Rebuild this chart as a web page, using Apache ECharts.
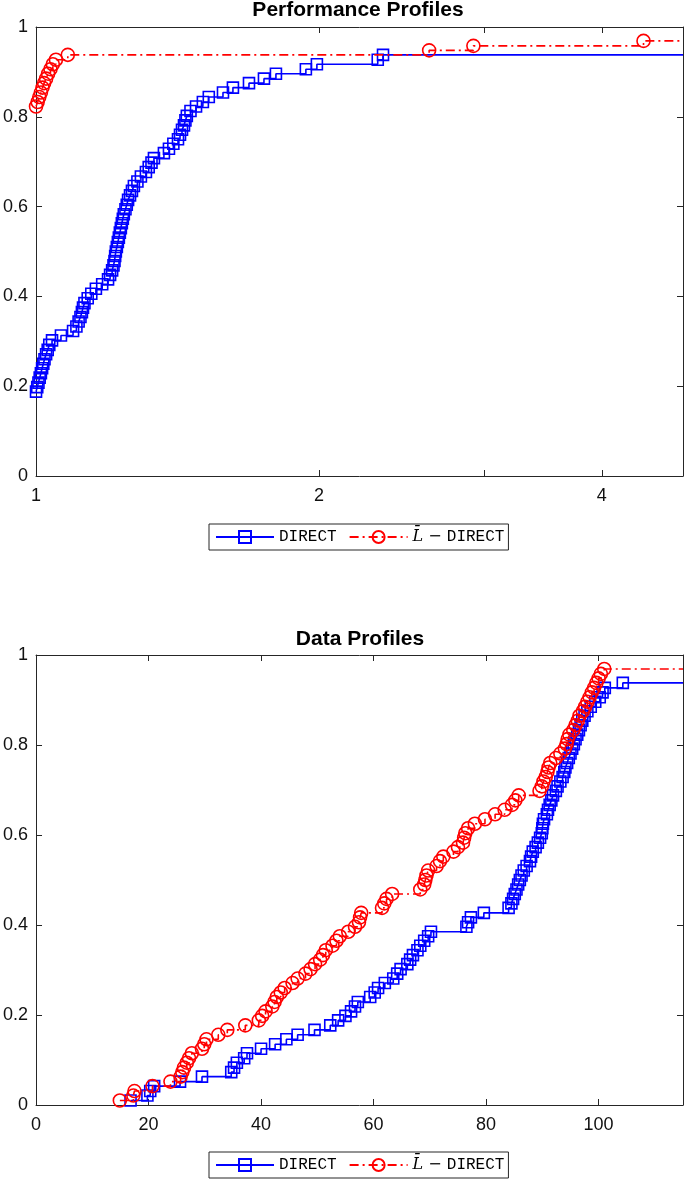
<!DOCTYPE html>
<html><head><meta charset="utf-8">
<script src="https://cdn.jsdelivr.net/npm/echarts@6/dist/echarts.min.js"></script>
<style>html,body{margin:0;padding:0;background:#fff}#c{width:685px;height:1182px}</style>
</head><body><div id="c"></div>
<script>
// ---------- data ----------
const seriesNames = ['DIRECT', 'L\u0304 \u2212 DIRECT'];
const titles = ['Performance Profiles', 'Data Profiles'];
const perfTickLabels = [1, 2, 4];
const perfTicks = [1, 2, 3, 4];
const perfXMin = 1, perfXMax = 4.88;
const dataXMin = 0, dataXMax = 115, dataXStep = 20;
const yTickStep = 0.2;

// Performance profile, DIRECT (tau, fraction)
const perfDirectX = [1.000,1.003,1.006,1.009,1.012,1.015,1.018,1.021,1.025,1.029,1.033,1.040,1.063,1.095,1.104,1.110,1.115,1.119,1.122,1.126,1.135,1.145,1.158,1.176,1.193,1.199,1.205,1.209,1.212,1.214,1.216,1.219,1.222,1.225,1.228,1.231,1.234,1.237,1.240,1.245,1.249,1.253,1.259,1.265,1.271,1.282,1.293,1.309,1.318,1.327,1.335,1.368,1.385,1.400,1.416,1.423,1.430,1.437,1.442,1.447,1.460,1.480,1.505,1.527,1.581,1.620,1.685,1.748,1.800,1.937,1.990,2.310,2.340];
const perfDirectY = [0.188,0.198,0.208,0.219,0.229,0.240,0.250,0.260,0.271,0.281,0.292,0.302,0.313,0.323,0.333,0.344,0.354,0.365,0.375,0.385,0.396,0.406,0.417,0.427,0.438,0.448,0.458,0.469,0.479,0.490,0.500,0.510,0.521,0.531,0.542,0.552,0.563,0.573,0.583,0.594,0.604,0.615,0.625,0.635,0.646,0.656,0.667,0.677,0.688,0.698,0.708,0.719,0.729,0.740,0.750,0.760,0.771,0.781,0.792,0.802,0.813,0.823,0.833,0.844,0.854,0.865,0.875,0.885,0.896,0.906,0.917,0.927,0.938];

// Performance profile, L-DIRECT
const perfLX = [1.000,1.004,1.008,1.012,1.016,1.020,1.025,1.030,1.036,1.042,1.050,1.081,2.62,2.92,4.43];
const perfLY = [0.823,0.833,0.844,0.854,0.865,0.875,0.885,0.896,0.906,0.917,0.927,0.938,0.948,0.958,0.969];

// Data profile, DIRECT (budget, fraction)
const dataDirectX = [16.8,19.8,20.3,21.0,25.6,29.5,34.7,35.2,35.7,37.0,37.5,40.0,42.5,44.5,46.5,49.5,52.3,53.7,55.0,56.0,56.7,57.2,59.4,60.2,60.8,62.0,63.5,64.2,64.8,66.0,66.5,67.0,67.8,68.3,69.0,69.7,70.2,76.5,76.8,77.3,79.6,84.0,84.5,84.8,85.1,85.4,85.7,86.0,86.3,86.7,87.2,87.8,88.0,88.3,88.8,89.2,89.6,89.9,90.0,90.1,90.3,90.8,91.0,91.3,91.6,91.9,92.4,92.7,93.2,93.6,93.9,94.1,94.4,94.7,95.0,95.3,95.6,95.9,96.2,96.5,96.8,97.1,97.5,98.0,98.6,99.4,100.2,100.7,101.1,104.3];
const dataDirectY = [0.010,0.021,0.031,0.042,0.052,0.063,0.073,0.083,0.094,0.104,0.115,0.125,0.135,0.146,0.156,0.167,0.177,0.188,0.198,0.208,0.219,0.229,0.240,0.250,0.260,0.271,0.281,0.292,0.302,0.313,0.323,0.333,0.344,0.354,0.365,0.375,0.385,0.396,0.406,0.417,0.427,0.438,0.448,0.458,0.469,0.479,0.490,0.500,0.510,0.521,0.531,0.542,0.552,0.563,0.573,0.583,0.594,0.604,0.615,0.625,0.635,0.646,0.656,0.667,0.677,0.688,0.698,0.708,0.719,0.729,0.740,0.750,0.760,0.771,0.781,0.792,0.802,0.813,0.823,0.833,0.844,0.854,0.865,0.875,0.885,0.896,0.906,0.917,0.927,0.938];

// Data profile, L-DIRECT
const dataLX = [14.9,17.3,17.5,20.7,23.9,25.7,26.0,26.3,26.8,27.2,27.7,29.5,29.9,30.3,32.4,34.0,37.2,39.6,40.2,40.8,42.0,42.4,42.8,43.5,44.2,45.6,46.5,47.9,48.8,49.6,50.5,51.0,51.5,52.7,53.4,54.0,55.5,56.7,57.4,57.6,57.8,61.5,61.9,62.3,63.3,68.3,69.0,69.2,69.4,69.7,71.2,71.8,72.4,74.2,75.0,75.9,76.1,76.3,76.8,78.0,79.8,81.6,83.3,84.6,85.2,85.8,89.5,89.9,90.2,90.6,90.9,91.1,91.4,92.4,93.2,94.0,94.3,94.5,94.8,95.5,95.9,96.3,96.6,97.2,97.6,98.0,98.4,98.8,99.2,99.6,100.0,100.4,101.0];
const dataLY = [0.010,0.021,0.031,0.042,0.052,0.063,0.073,0.083,0.094,0.104,0.115,0.125,0.135,0.146,0.156,0.167,0.177,0.188,0.198,0.208,0.219,0.229,0.240,0.250,0.260,0.271,0.281,0.292,0.302,0.313,0.323,0.333,0.344,0.354,0.365,0.375,0.385,0.396,0.406,0.417,0.427,0.438,0.448,0.458,0.469,0.479,0.490,0.500,0.510,0.521,0.531,0.542,0.552,0.563,0.573,0.583,0.594,0.604,0.615,0.625,0.635,0.646,0.656,0.667,0.677,0.688,0.698,0.708,0.719,0.729,0.740,0.750,0.760,0.771,0.781,0.792,0.802,0.813,0.823,0.833,0.844,0.854,0.865,0.875,0.885,0.896,0.906,0.917,0.927,0.938,0.948,0.958,0.969];

// ---------- chart ----------
const AX = '#262626';
const LABEL_FONT = 'Liberation Sans, Arial, sans-serif';
function pairs(xs, ys, xEnd) {
  const d = xs.map((x, i) => [x, ys[i]]);
  d.push({ value: [xEnd, ys[ys.length - 1]], symbol: 'none' });
  return d;
}
const tickCommon = { show: true, inside: true, length: 6, lineStyle: { color: AX, width: 1 } };
const lineCommon = { show: true, onZero: false, lineStyle: { color: AX, width: 1 } };
const labelCommon = { color: '#111', fontSize: 18, fontFamily: LABEL_FONT };

function yAxes(gi) {
  return [
    { gridIndex: gi, type: 'value', min: 0, max: 1, interval: yTickStep, position: 'left',
      axisLine: lineCommon, axisTick: tickCommon, splitLine: { show: false },
      axisLabel: Object.assign({ margin: 8 }, labelCommon) },
    { gridIndex: gi, type: 'value', min: 0, max: 1, interval: yTickStep, position: 'right',
      axisLine: lineCommon, axisTick: tickCommon, splitLine: { show: false },
      axisLabel: { show: false } }
  ];
}
const perfX = (pos, showLabel) => ({
  gridIndex: 0, type: 'log', logBase: 2, min: perfXMin, max: perfXMax, position: pos,
  axisLine: lineCommon,
  axisTick: Object.assign({ customValues: perfTicks }, tickCommon),
  splitLine: { show: false }, minorTick: { show: false },
  axisLabel: showLabel ? Object.assign({ margin: 11, customValues: perfTickLabels }, labelCommon) : { show: false }
});
const dataX = (pos, showLabel) => ({
  gridIndex: 1, type: 'value', min: dataXMin, max: dataXMax, interval: dataXStep, position: pos,
  axisLine: lineCommon, axisTick: tickCommon, splitLine: { show: false },
  axisLabel: showLabel ? Object.assign({ margin: 11, showMaxLabel: false }, labelCommon) : { show: false }
});

const blueStyle = {
  symbol: 'rect', symbolSize: 11, step: 'end',
  itemStyle: { color: 'rgba(255,255,255,0)', borderColor: '#0000ff', borderWidth: 1.6 },
  lineStyle: { color: '#0000ff', width: 1.6 }
};
const redStyle = {
  symbol: 'circle', symbolSize: 13, step: 'end',
  itemStyle: { color: 'rgba(255,255,255,0)', borderColor: '#ff0000', borderWidth: 1.6 },
  lineStyle: { color: '#ff0000', width: 1.6, type: [9, 4, 2, 4] }
};
function mkSeries(name, style, xi, yi, data) {
  return Object.assign({ type: 'line', name, xAxisIndex: xi, yAxisIndex: yi, data,
    emphasis: { disabled: true }, animation: false, z: name === seriesNames[0] ? 2 : 3 }, style);
}
const legendCommon = {
  data: seriesNames, orient: 'horizontal', left: 209,
  itemWidth: 58, itemHeight: 15, itemGap: 12,
  padding: [5, 4, 5, 6], backgroundColor: '#fff', borderColor: AX, borderWidth: 1,
  selectedMode: false,
  formatter: (n) => n === seriesNames[0] ? '{m|DIRECT}' : '{i|L\u0304}{n| \u2212 }{m|DIRECT}',
  textStyle: {
    rich: {
      m: { fontFamily: 'Liberation Mono, monospace', fontSize: 16, color: '#000' },
      i: { fontFamily: 'DejaVu Serif, serif', fontStyle: 'italic', fontSize: 16, color: '#000' },
      n: { fontFamily: 'DejaVu Serif, serif', fontSize: 16, color: '#000' }
    }
  }
};

const option = {
  backgroundColor: '#fff',
  animation: false,
  title: [
    { text: titles[0], left: 358, top: 0, padding: 0, textAlign: 'center',
      textStyle: { fontFamily: LABEL_FONT, fontWeight: 'bold', fontSize: 21, color: '#000' } },
    { text: titles[1], left: 360, top: 629, padding: 0, textAlign: 'center',
      textStyle: { fontFamily: LABEL_FONT, fontWeight: 'bold', fontSize: 21, color: '#000' } }
  ],
  legend: [
    Object.assign({ top: 524 }, legendCommon),
    Object.assign({ top: 1152 }, legendCommon)
  ],
  grid: [
    { left: 36, right: 2, top: 27, height: 449 },
    { left: 36, right: 2, top: 655, height: 450 }
  ],
  xAxis: [perfX('bottom', true), perfX('top', false), dataX('bottom', true), dataX('top', false)],
  yAxis: [...yAxes(0), ...yAxes(1)],
  series: [
    mkSeries(seriesNames[0], blueStyle, 0, 0, pairs(perfDirectX, perfDirectY, perfXMax)),
    mkSeries(seriesNames[1], redStyle, 0, 0, pairs(perfLX, perfLY, perfXMax)),
    mkSeries(seriesNames[0], blueStyle, 2, 2, pairs(dataDirectX, dataDirectY, dataXMax)),
    mkSeries(seriesNames[1], redStyle, 2, 2, pairs(dataLX, dataLY, dataXMax))
  ]
};
const chart = echarts.init(document.getElementById('c'), null, { renderer: 'canvas' });
chart.setOption(option);
</script>
</body></html>
